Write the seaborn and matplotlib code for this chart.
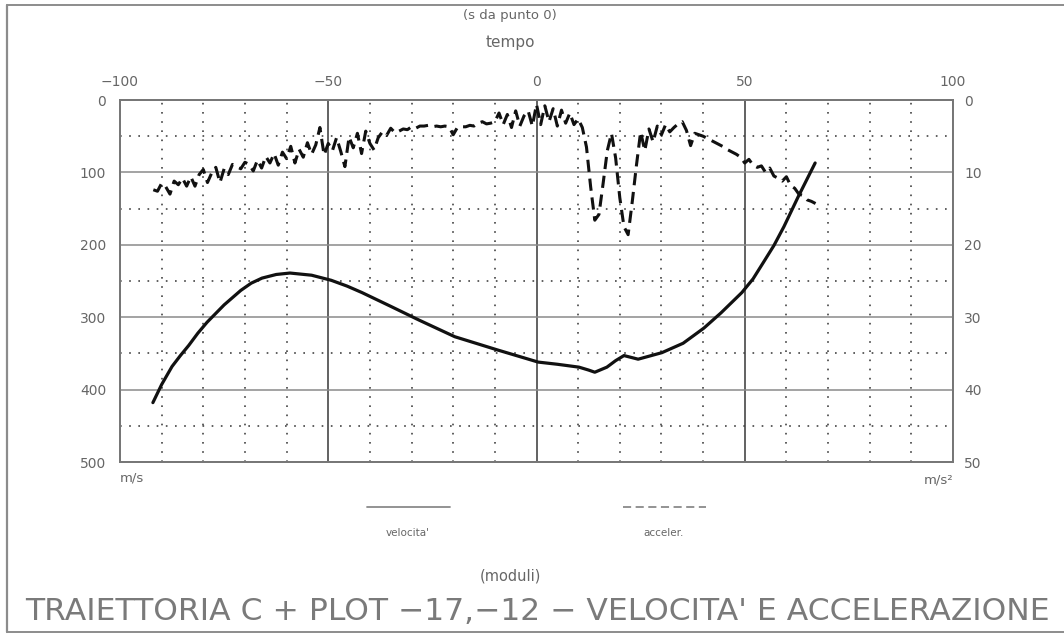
import matplotlib
matplotlib.use("Agg")
import matplotlib.pyplot as plt
from matplotlib.lines import Line2D
from matplotlib.ticker import MultipleLocator
import seaborn as sns
import pandas as pd

# ---------------- data ----------------
x_ticks = [-100, -50, 0, 50, 100]
x_tick_labels = ["\u2212100", "\u221250", "0", "50", "100"]
vel_ticks = [0, 100, 200, 300, 400, 500]
acc_ticks = [0, 10, 20, 30, 40, 50]

vel_time = [-92.1, -90.0, -87.5, -85.5, -83.5, -81.3, -79.1, -75.0, -71.0, -68.5,
            -65.9, -62.5, -59.2, -54.0, -49.3, -45.5, -41.9, -35.0, -28.2, -19.6,
            -9.5, 0.4, 5.0, 10.2, 12.5, 14.0, 16.9, 19.0, 21.0, 24.4,
            30.1, 35.2, 40.2, 44.3, 49.3, 52.0, 54.4, 57.0, 59.4, 62.8,
            66.9]
vel_val = [418, 393, 368, 353, 339, 322, 307, 283, 263, 253,
           246, 241, 239, 242, 249, 257, 266, 285, 304, 327,
           345, 362, 365, 369, 373, 376, 369, 360, 353, 358,
           349, 336, 315, 294, 266, 247, 225, 201, 175, 134,
           87]

acc_time = [-92, -91, -90, -89, -88, -87, -86, -85, -84, -83,
            -82, -81, -80, -79, -78, -77, -76, -75, -74, -73,
            -72, -71, -70, -69, -68, -67, -66, -65, -64, -63,
            -62, -61, -60, -59, -58, -57, -56, -55, -54, -53,
            -52, -51, -50, -49, -48, -47, -46, -45, -44, -43,
            -42, -41, -40, -39, -38, -37, -36, -35, -34, -33,
            -32, -31, -30, -29, -28, -27, -26, -25, -24, -23,
            -22, -21, -20, -19, -18, -17, -16, -15, -14, -13,
            -12, -11, -10, -9, -8, -7, -6, -5, -4, -3,
            -2, -1, 0, 1, 2, 3, 4, 5, 6, 7,
            8, 9, 10, 11, 12, 13, 14, 15, 16, 17,
            18, 19, 20, 21, 22, 23, 24, 25, 26, 27,
            28, 29, 30, 31, 32, 33, 34, 35, 36, 37,
            38, 39, 40, 41, 42, 43, 44, 45, 46, 47,
            48, 49, 50, 51, 52, 53, 54, 55, 56, 57,
            58, 59, 60, 61, 62, 63, 64, 65, 66, 67]
acc_val = [12.4, 12.6, 11.5, 12.0, 13.0, 11.2, 11.7, 10.8, 11.9, 10.6,
           11.9, 10.3, 9.6, 11.4, 10.1, 9.3, 11.4, 9.5, 10.3, 8.9,
           9.2, 9.5, 8.6, 8.9, 9.8, 8.3, 9.4, 7.8, 8.7, 7.4,
           9.0, 7.2, 8.1, 6.4, 8.7, 6.8, 7.9, 5.9, 7.5, 6.2,
           3.8, 7.6, 6.0, 7.0, 5.2, 7.1, 9.2, 5.1, 6.6, 4.6,
           7.4, 4.3, 6.0, 6.9, 5.2, 4.4, 4.9, 3.9, 4.5, 4.3,
           4.0, 4.1, 3.7, 3.9, 3.6, 3.6, 3.5, 3.7, 3.6, 3.7,
           3.6, 3.7, 4.8, 3.8, 3.7, 3.7, 3.5, 3.6, 3.2, 3.0,
           3.3, 3.2, 3.0, 1.8, 3.4, 2.0, 3.8, 1.5, 3.6, 2.2,
           1.5, 3.6, 0.6, 3.4, 0.8, 3.0, 1.2, 3.6, 1.4, 3.2,
           1.8, 3.4, 2.6, 3.8, 6.5, 12.0, 16.6, 15.8, 11.5, 7.0,
           4.6, 8.0, 13.5, 17.5, 18.6, 14.0, 9.0, 4.4, 7.0, 4.0,
           5.8, 3.6, 4.8, 3.4, 4.4, 3.8, 3.3, 3.0, 4.2, 6.3,
           4.6, 4.8, 5.0, 5.3, 5.6, 5.9, 6.2, 6.5, 6.9, 7.2,
           7.5, 7.9, 8.7, 8.2, 9.0, 9.3, 9.1, 10.0, 9.4, 10.5,
           10.8, 11.2, 10.6, 11.8, 12.2, 13.0, 13.2, 13.8, 14.0, 14.3]

title_text = "TRAIETTORIA C + PLOT \u221217,\u221212 \u2212 VELOCITA' E ACCELERAZIONE"

# ---------------- style ----------------
sns.set_theme(style="white")
plt.rcParams["font.family"] = ["DejaVu Sans"]

W, H = 1064, 634
fig = plt.figure(figsize=(W / 100, H / 100), dpi=100)
fig.patch.set_facecolor("white")

def fx(px):
    return px / W

def fy(py):
    return 1 - py / H

ax = fig.add_axes([fx(120), fy(462), fx(953) - fx(120), fy(100) - fy(462)])
ax.set_facecolor("white")

vel_df = pd.DataFrame({"t": vel_time, "v": vel_val})
acc_df = pd.DataFrame({"t": acc_time, "a": acc_val})

text_col = "#666666"

# grid
ax.set_xlim(-100, 100)
ax.set_ylim(500, 0)
ax.xaxis.set_minor_locator(MultipleLocator(10))
ax.yaxis.set_minor_locator(MultipleLocator(50))
ax.set_xticks(x_ticks)
ax.set_yticks(vel_ticks)
ax.grid(which="major", axis="x", color="#555555", lw=1.3, ls="-")
ax.grid(which="major", axis="y", color="#8a8a8a", lw=1.1, ls="-")
ax.grid(which="minor", color="#444444", lw=1.2, ls=(0, (1, 4.5)))
ax.set_axisbelow(True)

sns.lineplot(data=vel_df, x="t", y="v", ax=ax, color="#111111", lw=2.3,
             sort=False, estimator=None)

ax2 = ax.twinx()
ax2.set_ylim(50, 0)
ax2.set_yticks(acc_ticks)
ax2.grid(False)
sns.lineplot(data=acc_df, x="t", y="a", ax=ax2, color="#111111", lw=2.2,
             sort=False, estimator=None, linestyle=(0, (4, 2.2)))
ax2.set_xlim(-100, 100)

# ticks / labels
ax.xaxis.tick_top()
ax.set_xticklabels(x_tick_labels)
ax.tick_params(axis="x", which="both", length=0, pad=8, labelsize=10,
               labelcolor=text_col, top=True, bottom=False,
               labeltop=True, labelbottom=False)
ax.tick_params(axis="y", which="both", length=0, pad=10, labelsize=10,
               labelcolor=text_col)
ax2.tick_params(axis="y", which="both", length=0, pad=8, labelsize=10,
                labelcolor=text_col)
ax.set_xlabel("")
ax.set_ylabel("")
ax2.set_ylabel("")
ax2.set_xlabel("")

for a in (ax, ax2):
    for s in a.spines.values():
        s.set_color("#777777")
        s.set_linewidth(1.3)

# axis texts
fig.text(fx(510), fy(15), "(s da punto 0)", ha="center", va="center",
         fontsize=9.5, color=text_col)
fig.text(fx(510), fy(43), "tempo", ha="center", va="center",
         fontsize=11, color=text_col)
fig.text(fx(120), fy(478), "m/s", ha="left", va="center",
         fontsize=9.5, color=text_col)
fig.text(fx(953), fy(480), "m/s\u00b2", ha="right", va="center",
         fontsize=9.5, color=text_col)

# legend
fig.add_artist(Line2D([fx(367), fx(450)], [fy(507), fy(507)],
                      color="#8a8a8a", lw=1.3))
fig.add_artist(Line2D([fx(623), fx(706)], [fy(507), fy(507)],
                      color="#8a8a8a", lw=1.3, ls=(0, (4.5, 2.5))))
fig.text(fx(408), fy(533), "velocita'", ha="center", va="center",
         fontsize=7.5, color=text_col)
fig.text(fx(664), fy(533), "acceler.", ha="center", va="center",
         fontsize=7.5, color=text_col)
fig.text(fx(510), fy(576), "(moduli)", ha="center", va="center",
         fontsize=10.5, color=text_col)
fig.text(fx(537), fy(611), title_text, ha="center", va="center",
         fontsize=22.6, color="#7a7a7a")

# outer frame
frame_col = "#8c8c8c"
fig.add_artist(Line2D([fx(7), fx(7)], [fy(5), fy(632)], color=frame_col, lw=1.6))
fig.add_artist(Line2D([fx(7), fx(1064)], [fy(5), fy(5)], color=frame_col, lw=1.4))
fig.add_artist(Line2D([fx(7), fx(1064)], [fy(632), fy(632)], color=frame_col, lw=1.4))

fig.savefig("out.png", dpi=100, facecolor="white")
